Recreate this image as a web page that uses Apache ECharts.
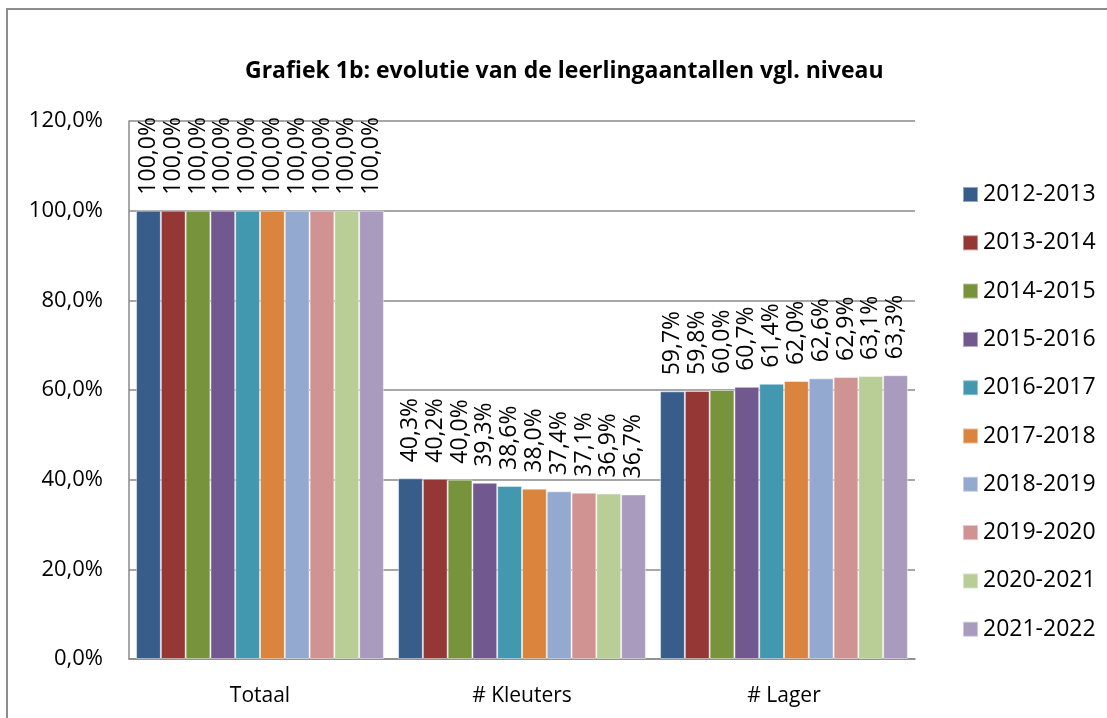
<!DOCTYPE html>
<html>
<head>
<meta charset="utf-8">
<script src="https://cdn.jsdelivr.net/npm/echarts@6/dist/echarts.min.js"></script>
<style>
  html, body { margin: 0; padding: 0; background: #fff; }
  #chart { width: 1107px; height: 718px; }
</style>
</head>
<body>
<div id="chart"></div>
<script>
    var categories = ['Totaal', '# Kleuters', '# Lager'];
    var years = ['2012-2013', '2013-2014', '2014-2015', '2015-2016', '2016-2017',
                 '2017-2018', '2018-2019', '2019-2020', '2020-2021', '2021-2022'];
    var totaal   = [100, 100, 100, 100, 100, 100, 100, 100, 100, 100];
    var kleuters = [40.3, 40.2, 40.0, 39.3, 38.6, 38.0, 37.4, 37.1, 36.9, 36.7];
    var lager    = [59.7, 59.8, 60.0, 60.7, 61.4, 62.0, 62.6, 62.9, 63.1, 63.3];
    var yTicks = [0, 20, 40, 60, 80, 100, 120];
    var colors = ['#385d8a', '#953735', '#77933c', '#71588f', '#4198af',
                  '#db843d', '#93a9cf', '#d19392', '#b9cd96', '#a99bbd'];

    var font = '"Open Sans", sans-serif';

    function pct(v) {
        return v.toFixed(1).replace('.', ',') + '%';
    }

    var series = years.map(function (y, i) {
        return {
            name: y,
            type: 'bar',
            barGap: 0,
            barCategoryGap: '5.4%',
            data: [totaal[i], kleuters[i], lager[i]],
            itemStyle: {
                color: colors[i],
                borderColor: 'rgba(255,255,255,0.45)',
                borderWidth: 1
            },
            label: {
                show: true,
                position: 'top',
                rotate: 90,
                align: 'left',
                verticalAlign: 'middle',
                distance: 16,
                fontFamily: font,
                fontSize: 23,
                color: '#000',
                formatter: function (p) { return pct(p.value); }
            }
        };
    });

    var myChart = echarts.init(document.getElementById('chart'));

    var option = {
        animation: false,
        color: colors,
        title: {
            text: 'Grafiek 1b: evolutie van de leerlingaantallen vgl. niveau',
            left: 240,
            top: 55,
            textStyle: {
                fontFamily: font,
                fontWeight: 'bold',
                fontSize: 23,
                color: '#000'
            }
        },
        legend: {
            orient: 'vertical',
            left: 957,
            top: 178,
            itemWidth: 15,
            itemHeight: 15,
            itemGap: 25.3,
            icon: 'rect',
            data: years,
            textStyle: {
                fontFamily: font,
                fontSize: 23,
                color: '#000',
                lineHeight: 22
            }
        },
        grid: {
            left: 129,
            right: 192,
            top: 121,
            bottom: 59,
            containLabel: false
        },
        xAxis: {
            type: 'category',
            data: categories,
            axisLine: { lineStyle: { color: '#8a8a8a', width: 1.5 } },
            axisTick: { show: false },
            axisLabel: {
                margin: 27,
                fontFamily: font,
                fontSize: 21,
                color: '#000'
            }
        },
        yAxis: {
            type: 'value',
            min: yTicks[0],
            max: yTicks[yTicks.length - 1],
            interval: 20,
            axisLine: { show: true, lineStyle: { color: '#8a8a8a', width: 1.5 } },
            axisTick: { show: false },
            splitLine: { lineStyle: { color: '#8a8a8a', width: 1.5 } },
            axisLabel: {
                margin: 26,
                fontFamily: font,
                fontSize: 22,
                color: '#000',
                formatter: function (v) { return pct(v); }
            }
        },
        graphic: [{
            type: 'rect',
            shape: { x: 7, y: 9, width: 1200, height: 800 },
            style: { fill: 'none', stroke: '#8c8c8c', lineWidth: 2 },
            silent: true
        }],
        series: series
    };

    myChart.setOption(option);
</script>
</body>
</html>
